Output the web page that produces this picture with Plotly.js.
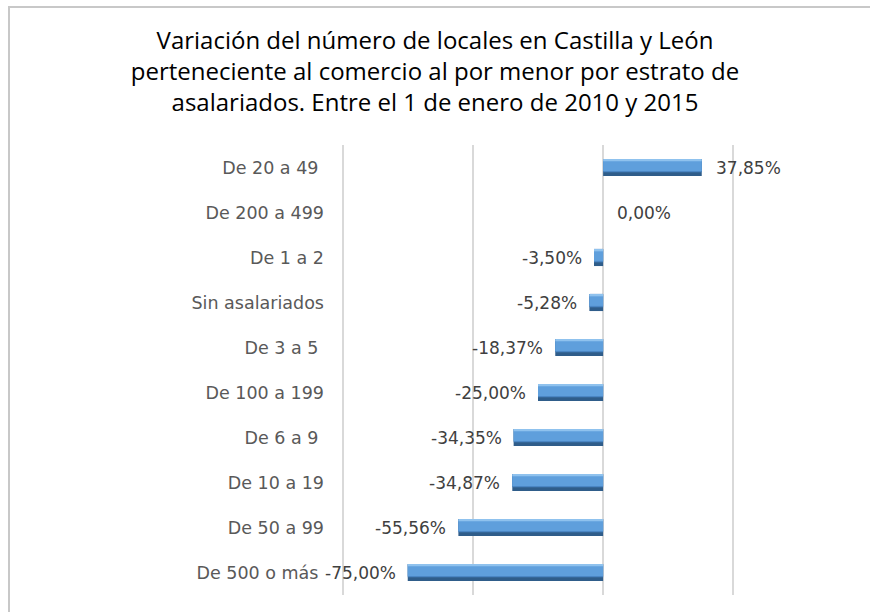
<!DOCTYPE html>
<html>
<head>
<meta charset="utf-8">
<script src="https://cdn.plot.ly/plotly-3.0.1.min.js"></script>
<style>
  html, body { margin: 0; padding: 0; background: #fff; overflow: hidden; }
  #chart { width: 870px; height: 612px; position: absolute; left: 0; top: 0; }
  #frame { position: absolute; left: 8px; top: 6px; width: 1000px; height: 1000px;
           border-left: 2px solid #c8c8c8; border-top: 2px solid #c8c8c8; pointer-events: none; }
</style>
</head>
<body>
<div id="chart"></div>
<div id="frame"></div>
<script>
// Data (top to bottom)
const categories = ["De 20 a 49", "De 200 a 499", "De 1 a 2", "Sin asalariados", "De 3 a 5",
                    "De 100 a 199", "De 6 a 9", "De 10 a 19", "De 50 a 99", "De 500 o más"];
const tickLabels = ["De 20 a 49\u00a0", "De 200 a 499", "De 1 a 2", "Sin asalariados", "De 3 a 5\u00a0",
                    "De 100 a 199", "De 6 a 9\u00a0", "De 10 a 19", "De 50 a 99", "De 500 o más\u00a0"];
const values = [37.85, 0.00, -3.50, -5.28, -18.37, -25.00, -34.35, -34.87, -55.56, -75.00];

const fmt = v => v.toFixed(2).replace('.', ',') + '%';

const BW = 0.38;
function barLayer(color, width, offset) {
  return {
    type: 'bar', orientation: 'h',
    y: categories, x: values,
    width: categories.map(() => width),
    offset: categories.map(() => offset),
    marker: { color: color, line: { width: 0 } },
    hoverinfo: 'skip', showlegend: false
  };
}

const traces = [
  barLayer('#2f5d8a', BW, -BW / 2),
  barLayer('#4a86c4', BW * 0.78, -BW / 2),
  barLayer('#5f9fdc', BW * 0.62, -BW / 2 + BW * 0.08),
  barLayer('#8fc2ee', BW * 0.14, -BW / 2)
];

const annotations = categories.map((c, i) => ({
  x: values[i], y: c, xref: 'x', yref: 'y',
  text: fmt(values[i]),
  showarrow: false,
  xanchor: values[i] >= 0 ? 'left' : 'right',
  xshift: values[i] >= 0 ? 12 : -10,
  font: { family: 'DejaVu Sans', size: 17, color: '#404040' }
}));

const layout = {
  width: 870, height: 612,
  margin: { l: 340, r: 134, t: 145, b: 17 },
  paper_bgcolor: '#ffffff', plot_bgcolor: '#ffffff',
  barmode: 'overlay',
  title: {
    text: 'Variación del número de locales en Castilla y León<br>perteneciente al comercio al por menor por estrato de<br>asalariados. Entre el 1 de enero de 2010 y 2015',
    x: 0.5, xanchor: 'center', xref: 'container',
    y: 0.92, yanchor: 'top', yref: 'container',
    font: { family: 'Open Sans', size: 24, color: '#000000' }
  },
  xaxis: {
    range: [-101, 51], dtick: 50, tick0: 0,
    showticklabels: false, ticks: '',
    showgrid: true, gridcolor: '#d9d9d9', gridwidth: 2,
    zeroline: false, showline: false, fixedrange: true
  },
  yaxis: {
    type: 'category', autorange: 'reversed',
    tickmode: 'array', tickvals: categories, ticktext: tickLabels,
    ticks: '', showgrid: false, zeroline: false, showline: false,
    ticklabelstandoff: 15,
    tickfont: { family: 'DejaVu Sans', size: 17.5, color: '#595959' }
  },
  annotations: annotations
};

Plotly.newPlot('chart', traces, layout, { displayModeBar: false, staticPlot: true });
</script>
</body>
</html>
